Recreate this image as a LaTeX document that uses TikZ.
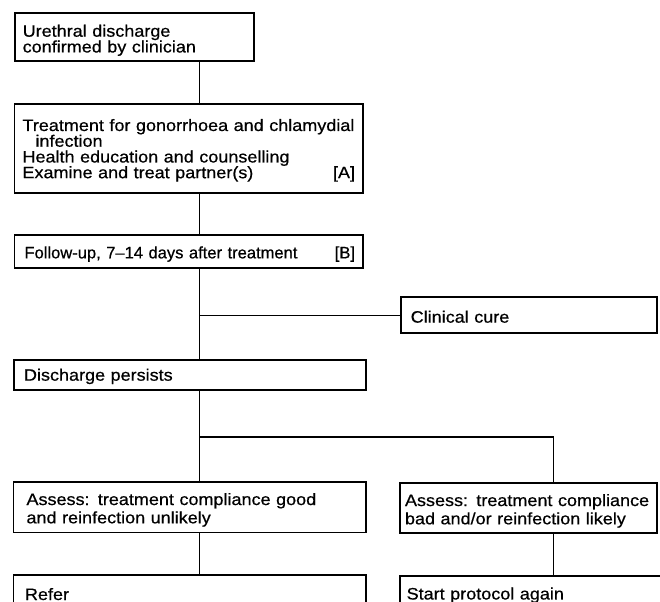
\documentclass[tikz,border=0pt]{standalone}
\usepackage{fontspec}
\setmainfont{Liberation Sans}[FakeStretch=1.09, FakeBold=0.6]
\newfontfamily\narrowsans{Liberation Sans}[Ligatures=TeX, FakeStretch=1.0, FakeBold=0.6]
\newcommand{\flowfont}{\fontsize{12.4}{11.8}\selectfont\lineskiplimit=-20pt\hyphenpenalty=10000}
\newcommand{\wideflowfont}{\fontsize{12.4}{13.7}\selectfont\lineskiplimit=-20pt\hyphenpenalty=10000}

\tikzset{every picture/.style={line width=0.75pt}}
\tikzset{
	flowbox/.style={draw, rectangle, line width=1.3pt, anchor=north west, outer sep=0pt, inner ysep=0pt, align=left, font=\flowfont},
	flowline/.style={line width=1.1pt}
}

\begin{document}
\begin{tikzpicture}[x=0.75pt,y=0.75pt,yscale=-1,xscale=1]
	%set diagram to 660 x 602
	\path [use as bounding box, clip] (0,0) rectangle (660,602);

	% Text Node
	\node [flowbox, inner xsep=6pt, text width=167.5pt, text height=18pt, text depth=18.2pt] (urethral) at (14.7,12.7) {Urethral discharge\\confirmed by clinician};
	% Text Node
	\node [flowbox, inner xsep=6pt, text width=249.4pt, text height=20.25pt, text depth=46.5pt] (treatment) at (14.5,104) {\mbox{Treatment for gonorrhoea and chlamydial}\\\hspace*{9.75pt}infection\\Health education and counselling\\Examine and treat partner(s)\hfill[A]};
	% Text Node
	\node [flowbox, inner xsep=6pt, text width=249.4pt, text height=17.5pt, text depth=7.25pt] (followup) at (14.5,235) {\narrowsans\hspace*{1.5pt}Follow-up, 7--14 days after treatment\hfill[B]};
	% Text Node
	\node [flowbox, inner xsep=7.5pt, text width=177pt, text height=19pt, text depth=8pt] (cure) at (400.7,297.3) {Clinical cure};
	% Text Node
	\node [flowbox, inner xsep=7.5pt, text width=249pt, text height=15.5pt, text depth=7pt] (persists) at (14,360) {Discharge persists};
	% Text Node
	\node [flowbox, font=\wideflowfont, inner xsep=9.75pt, text width=244.7pt, text height=17.5pt, text depth=20.6pt] (assessgood) at (13.5,481.7) {Assess: treatment compliance good\\and reinfection unlikely};
	% Text Node
	\node [flowbox, font=\wideflowfont, inner xsep=3.75pt, text width=185.25pt, text height=17.5pt, text depth=20.1pt] (assessbad) at (400,482.7) {\mbox{Assess: treatment compliance}\\\mbox{bad and/or reinfection likely}};
	% Text Node
	\node [flowbox, inner xsep=8.6pt, text width=247.2pt, text height=18.75pt, text depth=40pt] (refer) at (13.5,575) {Refer};
	% Text Node
	\node [flowbox, inner xsep=5pt, text width=192.5pt, text height=17.6pt, text depth=40pt] (again) at (400,576) {Start protocol again};

	% Connection
	\coordinate (spine) at (199.3,0);
	\coordinate (fork) at (553.3,437);
	\draw [flowline] (urethral.south -| spine) -- (treatment.north -| spine);
	\draw [flowline] (treatment.south -| spine) -- (followup.north -| spine);
	\draw [flowline] (followup.south -| spine) -- (persists.north -| spine);
	\draw [flowline] (spine |- cure.west) -- (cure.west);
	\draw [flowline] (persists.south -| spine) -- (assessgood.north -| spine);
	\draw [flowline] (fork -| spine) -- (fork) -- (fork |- assessbad.north);
	\draw [flowline] (assessgood.south -| spine) -- (refer.north -| spine);
	\draw [flowline] (assessbad.south -| fork) -- (again.north -| fork);

\end{tikzpicture}
\end{document}
